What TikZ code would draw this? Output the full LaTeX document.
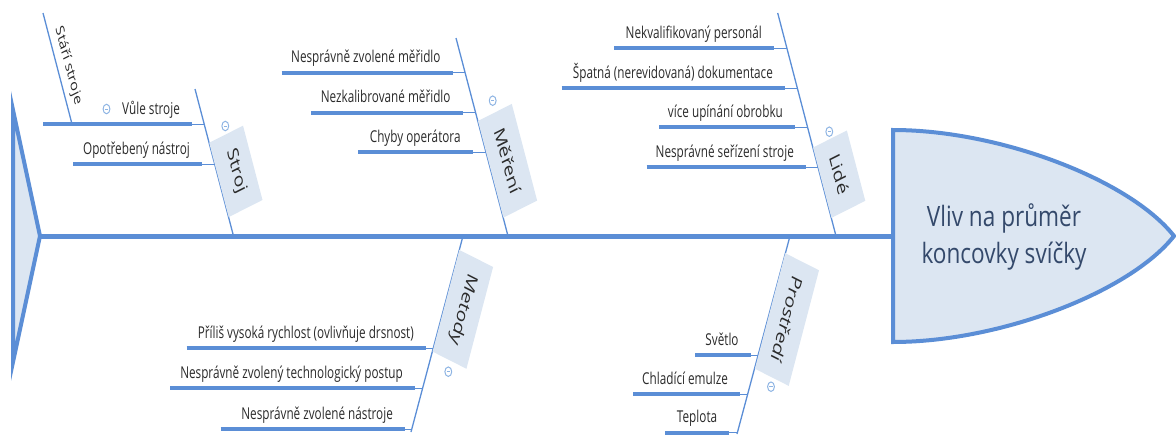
\documentclass[tikz,border=0pt]{standalone}
\usepackage{fontspec}
\setmainfont{Open Sans}
\usetikzlibrary{calc}

\definecolor{bonec}{HTML}{5B8ED6}
\definecolor{boxfill}{HTML}{DCE6F2}
\definecolor{iconc}{HTML}{8EB4E3}
\definecolor{txt}{HTML}{2A2A2A}
\definecolor{headtxt}{HTML}{34496B}

\tikzset{
  spine/.style={draw=bonec, line width=5pt},
  shell/.style={draw=bonec, fill=boxfill, line width=4pt, line join=miter, miter limit=12},
  bone/.style={draw=bonec, line width=1.3pt},
  twig/.style={draw=bonec, line width=4pt},
  link/.style={draw=bonec, line width=1pt},
  lbl/.style={text=txt, font=\fontsize{16.3}{20}\selectfont, inner sep=0pt, anchor=base east},
  lblrot/.style={text=txt, font=\fontsize{16.3}{20}\selectfont, inner sep=0pt, rotate=-70},
  cat/.style={fill=boxfill, text=txt, font=\fontsize{21}{25}\selectfont,
    inner xsep=17pt, inner ysep=0pt, minimum height=50pt, anchor=south},
  catup/.style={cat, rotate=-70},
  catdown/.style={cat, rotate=-110},
  fold/.style={circle, draw=iconc, line width=1pt, minimum size=9.5pt, inner sep=0pt,
    path picture={\draw[iconc, line width=1pt]
      ([xshift=2.4pt]path picture bounding box.west) --
      ([xshift=-2.4pt]path picture bounding box.east);}},
  headtext/.style={text=headtxt, align=center, inner sep=0pt,
    font=\fontsize{28}{36.3}\selectfont, xscale=1.12},
}

% sub-cause: #1 name, #2 y, #3 left x, #4 right x, #5 x where it meets the bone, #6 text
\newcommand{\subcause}[6]{%
  \coordinate (#1-l) at (#3,#2);
  \coordinate (#1-r) at (#4,#2);
  \coordinate (#1-j) at (#5,#2);
  \draw[twig] (#1-l) -- (#1-r);
  \draw[link] (#1-r) -- (#1-j);
  \node[lbl] (#1) at ($(#1-r)+(-12,-10)$) {#6};
}

\begin{document}
\begin{tikzpicture}[x=1pt,y=-1pt]
\useasboundingbox (0,0) rectangle (1176,434);
\begin{scope}[xscale=0.72, x=1.388889pt, every node/.append style={transform shape}]

  % tail
  \path[shell] (13,110) -- (40,236) -- (13,362) -- cycle;
  \coordinate (tail) at (40,236);

  % head
  \path[shell] (893,130) .. controls (1000,130) and (1130,180) .. (1174,236)
    .. controls (1130,292) and (1000,342) .. (893,342) -- cycle;
  \coordinate (headleft) at (893,236);
  \node[headtext] (effect) at (1004,237) {Vliv na průměr\\koncovky svíčky};

  % spine
  \draw[spine] (tail) -- (headleft);

  % --- Stroj ---
  \coordinate (stroj-top) at (195,89);
  \coordinate (stroj-foot) at (233.5,236);
  \draw[bone] (stroj-top) -- (stroj-foot);
  \node[catup] (stroj) at (218.8,180) {Stroj};
  \node[fold] (stroj-fold) at (225.3,126) {};
  \subcause{vule}{124}{43}{192}{204.2}{Vůle stroje}
  \subcause{opot}{164}{73}{202}{214.7}{Opotřebený nástroj}
  \node[fold] (vule-fold) at (106.5,109) {};
  \coordinate (stari-top) at (43,13);
  \coordinate (stari-foot) at (72,124);
  \draw[bone] (stari-top) -- (stari-foot);
  \node[lblrot] (stari) at (68.3,65.8) {Stáří stroje};

  % --- Měření ---
  \coordinate (mereni-top) at (456,38);
  \coordinate (mereni-foot) at (508,236);
  \draw[bone] (mereni-top) -- (mereni-foot);
  \node[catup] (mereni) at (490.5,169.4) {Měření};
  \node[fold] (mereni-fold) at (492.7,100.7) {};
  \subcause{zvol}{72.7}{281.7}{452.7}{465.1}{Nesprávně zvolené měřidlo}
  \subcause{kalib}{112.7}{311}{462.7}{475.6}{Nezkalibrované měřidlo}
  \subcause{chyby}{152.3}{358.3}{472.7}{486}{Chyby operátora}

  % --- Lidé ---
  \coordinate (lide-top) at (777.7,13);
  \coordinate (lide-foot) at (836,236);
  \draw[bone] (lide-top) -- (lide-foot);
  \node[catup] (lide) at (822.1,182.8) {Lidé};
  \node[fold] (lide-fold) at (829.3,131.7) {};
  \subcause{nekval}{48.3}{614.3}{774}{786.9}{Nekvalifikovaný personál}
  \subcause{spatna}{88.3}{561.7}{785}{797.4}{Špatná (nerevidovaná) dokumentace}
  \subcause{upin}{127.3}{659}{795}{807.6}{více upínání obrobku}
  \subcause{serizeni}{167.3}{646.7}{806}{818}{Nesprávné seřízení stroje}

  % --- Metody ---
  \coordinate (metody-top) at (463,236);
  \coordinate (metody-foot) at (411,432);
  \draw[bone] (metody-top) -- (metody-foot);
  \node[catdown] (metody) at (445.8,300.7) {Metody};
  \node[fold] (metody-fold) at (448.3,371.7) {};
  \subcause{rych}{348.3}{186.7}{426}{433.2}{Příliš vysoká rychlost (ovlivňuje drsnost)}
  \subcause{tech}{388.3}{170}{415}{422.6}{Nesprávně zvolený technologický postup}
  \subcause{nastr}{429.3}{220.7}{405}{411.7}{Nesprávně zvolené nástroje}

  % --- Prostředí ---
  \coordinate (prost-top) at (790,236);
  \coordinate (prost-foot) at (737,434);
  \draw[bone] (prost-top) -- (prost-foot);
  \node[catdown] (prost) at (769.9,310.9) {Prostředí};
  \node[fold] (prost-fold) at (771,386.7) {};
  \subcause{svetlo}{355}{695}{750.7}{758.1}{Světlo}
  \subcause{emulze}{394.3}{633.3}{740}{747.6}{Chladící emulze}
  \subcause{teplota}{432.7}{665}{729.3}{737.3}{Teplota}

\end{scope}
\end{tikzpicture}
\end{document}
